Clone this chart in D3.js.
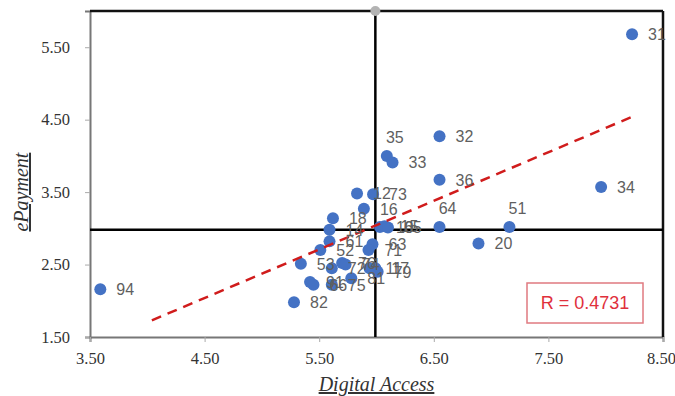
<!DOCTYPE html>
<html>
<head>
<meta charset="utf-8">
<script src="https://cdn.jsdelivr.net/npm/d3@7"></script>
<style>
	body { margin: 0; background: #fff; }
	.tick text { font-family: "Liberation Serif", "Times New Roman", serif; font-size: 16.5px; fill: #333; }
	.ptlabel { font-family: "Liberation Sans", Arial, sans-serif; font-size: 16px; fill: #5f5f5f; }
	.axtitle { font-family: "Liberation Serif", "Times New Roman", serif; font-size: 20px; font-style: italic; fill: #333; text-decoration: underline; }
</style>
</head>
<body>
<div id="chart-area"></div>
<script>

// country codes, x = Digital Access, y = ePayment
var codes = ["31","34","32","35","33","36","64","51","20","94","82",
	"12","73","16","18","14","10","15","65","61","63","71","52","53",
	"76","74","72","11","17","79","81","91","66","75"];
var digitalAccess = [8.23,7.96,6.55,6.09,6.14,6.55,6.55,7.16,6.89,3.59,5.28,
	5.83,5.97,5.89,5.62,5.59,6.03,6.07,6.10,5.59,5.965,5.93,5.51,5.34,
	5.70,5.73,5.61,5.94,5.99,6.01,5.78,5.42,5.45,5.61];
var ePayment = [5.68,3.57,4.27,4.00,3.91,3.67,3.02,3.02,2.79,2.16,1.98,
	3.48,3.47,3.27,3.14,2.98,3.02,3.03,3.01,2.82,2.78,2.70,2.70,2.51,
	2.52,2.50,2.45,2.45,2.45,2.40,2.31,2.26,2.22,2.22];

var xTicks = [3.5, 4.5, 5.5, 6.5, 7.5, 8.5];
var yTicks = [1.5, 2.5, 3.5, 4.5, 5.5];

// quadrant split (means) and the fitted trend line ends
var splitX = 5.99, splitY = 2.98;
var trendX = [4.04, 8.26];
var trendY = [1.73, 4.56];
var rText = "R = 0.4731";

// labels that were dragged above their point
var labelAbove = ["35", "64", "51"];

var data = codes.map(function(c, i) {
	return { code: c, x: digitalAccess[i], y: ePayment[i] };
});

var W = 675, H = 396;
var margin = { top: 11, right: 12, bottom: 59, left: 90 },
	width = W - margin.left - margin.right,
	height = H - margin.top - margin.bottom;

var x = d3.scaleLinear().domain([3.5, 8.5]).range([0, width]);
var y = d3.scaleLinear().domain([1.5, 6.0]).range([height, 0]);

var svg = d3.select("#chart-area").append("svg")
	.attr("width", W)
	.attr("height", H)
	.append("g")
	.attr("transform", "translate(" + margin.left + "," + margin.top + ")");

// axes
var yAxis = svg.append("g")
	.call(d3.axisLeft(y).tickValues(yTicks).tickFormat(d3.format(".2f")).tickSizeOuter(0).tickSize(5).tickPadding(15));
var xAxis = svg.append("g")
	.attr("transform", "translate(0," + height + ")")
	.call(d3.axisBottom(x).tickValues(xTicks).tickFormat(d3.format(".2f")).tickSizeOuter(0).tickSize(5).tickPadding(10));

[yAxis, xAxis].forEach(function(a) {
	a.select(".domain").attr("stroke", "#777").attr("stroke-width", 2);
	a.selectAll(".tick line").attr("stroke", "#aaa");
});
// last x label sits against the page edge
xAxis.selectAll(".tick text").filter(function(d) { return d === 8.5; }).attr("dx", "-2");

// top and right frame
svg.append("line").attr("x1", 0).attr("x2", width).attr("y1", 0).attr("y2", 0)
	.attr("stroke", "#111").attr("stroke-width", 2.5);
svg.append("line").attr("x1", width).attr("x2", width).attr("y1", 0).attr("y2", height)
	.attr("stroke", "#111").attr("stroke-width", 2.5);

// quadrant lines
svg.append("line")
	.attr("x1", x(splitX)).attr("x2", x(splitX))
	.attr("y1", 0).attr("y2", height)
	.attr("stroke", "#000").attr("stroke-width", 2.5);
svg.append("line")
	.attr("x1", 0).attr("x2", width)
	.attr("y1", y(splitY)).attr("y2", y(splitY))
	.attr("stroke", "#000").attr("stroke-width", 2.5);

svg.append("circle")
	.attr("cx", x(splitX)).attr("cy", y(6.0)).attr("r", 5)
	.attr("fill", "#b3b3b3");

// points
svg.selectAll(".dot")
	.data(data)
	.enter()
	.append("circle")
	.attr("class", "dot")
	.attr("cx", function(d) { return x(d.x); })
	.attr("cy", function(d) { return y(d.y); })
	.attr("r", 6)
	.style("fill", "#4472C4");

// trend line
svg.append("line")
	.attr("x1", x(trendX[0])).attr("y1", y(trendY[0]))
	.attr("x2", x(trendX[1])).attr("y2", y(trendY[1]))
	.attr("stroke", "#d01c1c")
	.attr("stroke-width", 2.5)
	.attr("stroke-dasharray", "10,7");

// point labels
svg.selectAll(".ptlabel")
	.data(data)
	.enter()
	.append("text")
	.attr("class", "ptlabel")
	.attr("text-anchor", function(d) { return labelAbove.indexOf(d.code) >= 0 ? "middle" : "start"; })
	.attr("x", function(d) {
		return labelAbove.indexOf(d.code) >= 0 ? x(d.x) + 8 : x(d.x) + 16;
	})
	.attr("y", function(d) {
		return labelAbove.indexOf(d.code) >= 0 ? y(d.y) - 19 : y(d.y);
	})
	.attr("dy", "0.36em")
	.text(function(d) { return d.code; });

// R box
var box = svg.append("g").attr("transform", "translate(" + (width - 136) + "," + (height - 54) + ")");
box.append("rect")
	.attr("width", 116).attr("height", 40)
	.attr("fill", "#fff")
	.attr("stroke", "#e07a80")
	.attr("stroke-width", 1.5);
box.append("text")
	.attr("x", 58).attr("y", 20).attr("dy", "0.36em")
	.attr("text-anchor", "middle")
	.style("font-family", "'Liberation Sans', Arial, sans-serif")
	.style("font-size", "18px")
	.style("fill", "#e0303c")
	.text(rText);

// axis titles
svg.append("text")
	.attr("class", "axtitle")
	.attr("text-anchor", "middle")
	.attr("x", x(6.0)).attr("y", height + 54)
	.text("Digital Access");
svg.append("text")
	.attr("class", "axtitle")
	.attr("text-anchor", "middle")
	.attr("transform", "translate(" + (-62) + "," + y(3.5) + ") rotate(-90)")
	.text("ePayment");

</script>
</body>
</html>
